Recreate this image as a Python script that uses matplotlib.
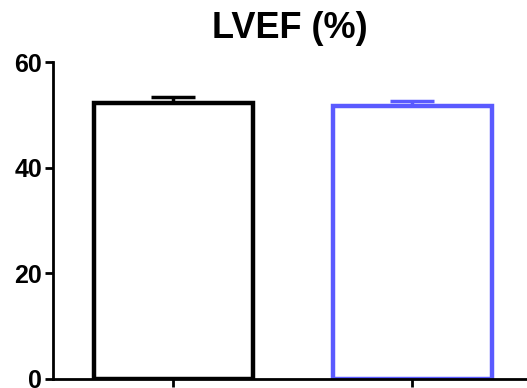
import matplotlib
matplotlib.use("Agg")
import matplotlib.pyplot as plt

groups = ["Group 1", "Group 2"]
means = [52.3, 51.6]
sems = [1.1, 1.0]
edge_colors = ["#000000", "#5a5aff"]

plt.rcParams['font.family'] = ['Liberation Sans', 'DejaVu Sans']

fig = plt.figure(figsize=(5.27, 3.88), dpi=100)
ax = fig.add_axes([0.1006, 0.0232, 0.8994, 0.817])

x = range(len(groups))
for i in x:
    ax.bar(i, means[i], width=0.665, facecolor="white", edgecolor=edge_colors[i],
           linewidth=3.2, zorder=2)
    ax.errorbar(i, means[i], yerr=[[0], [sems[i]]], color=edge_colors[i],
                capsize=16, capthick=2.5, elinewidth=2.5, zorder=1)

ax.set_xlim(-0.502, 1.48)
ax.set_ylim(0, 60)
ax.set_yticks([0, 20, 40, 60])
ax.set_xticks(list(x))
ax.set_xticklabels([])
ax.spines["top"].set_visible(False)
ax.spines["right"].set_visible(False)
ax.spines["left"].set_linewidth(2)
ax.spines["bottom"].set_linewidth(2)
ax.tick_params(axis="both", direction="out", length=6, width=2, pad=2)
for lbl in ax.get_yticklabels():
    lbl.set_fontsize(18)
    lbl.set_fontweight("bold")
ax.set_title("LVEF (%)", fontsize=26, fontweight="bold", pad=17)

fig.savefig("out.png", dpi=100)
